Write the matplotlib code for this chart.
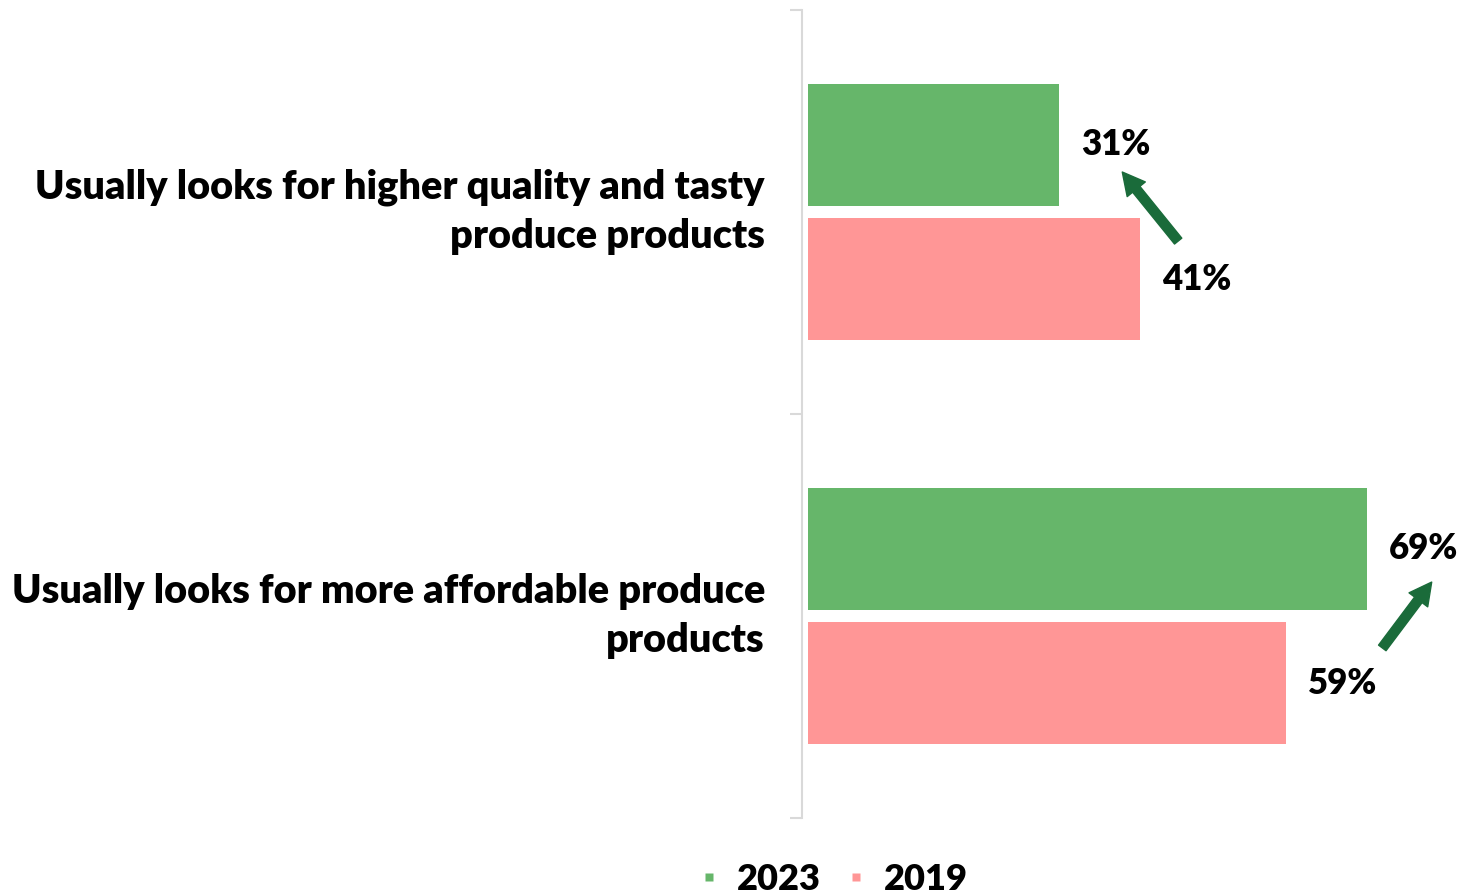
import matplotlib.pyplot as plt
from matplotlib.lines import Line2D
import numpy as np

# survey shares (%) per statement, 2023 vs 2019
categories = ['Usually looks for higher quality and tasty\nproduce products',
              'Usually looks for more affordable produce\nproducts']
years = ['2023', '2019']
values_2023 = [31, 69]
values_2019 = [41, 59]

green = '#66B66A'
pink = '#FF9696'
arrow_green = '#1A6B3A'
weight = 'heavy'

plt.rcParams['font.family'] = ['Lato', 'DejaVu Sans']
plt.rcParams['font.weight'] = weight

fig = plt.figure(figsize=(14.66, 8.96), dpi=100)
ax = fig.add_axes([808 / 1466, 78 / 896, 648 / 1466, 808 / 896])

y = np.arange(len(categories))
h = 0.302
off = 0.167
ax.barh(y - off, values_2023, height=h, color=green, label=years[0])
ax.barh(y + off, values_2019, height=h, color=pink, label=years[1])

# value labels at bar ends
for yi, v in zip(y - off, values_2023):
    ax.annotate(f'{v}%', (v, yi), xytext=(16, 0), textcoords='offset points',
                va='center', ha='left', fontsize=25, fontweight=weight)
for yi, v in zip(y + off, values_2019):
    ax.annotate(f'{v}%', (v, yi), xytext=(16, 0), textcoords='offset points',
                va='center', ha='left', fontsize=25, fontweight=weight)

# category labels left of the axis
for yi, cat in zip(y, categories):
    ax.annotate(cat, (0, yi), xycoords=('axes fraction', 'data'),
                xytext=(-31, 0), textcoords='offset points',
                ha='right', va='center', multialignment='right',
                fontsize=28.5, fontweight=weight, linespacing=1.4)

# change arrows between the two years
arrow_style = dict(arrowstyle='simple,head_length=1.0,head_width=1.05,tail_width=0.42',
                   color=arrow_green, mutation_scale=16, shrinkA=0, shrinkB=0)
ax.annotate('', xy=(38.8, -0.099), xytext=(45.7, 0.072), arrowprops=arrow_style)
ax.annotate('', xy=(77.0, 0.916), xytext=(70.9, 1.079), arrowprops=arrow_style)

ax.set_xlim(0, 80)
ax.set_ylim(1.5, -0.5)
ax.set_xticks([])
ax.set_yticks([-0.5, 0.5, 1.5])
ax.set_yticklabels([])
ax.tick_params(axis='y', which='major', length=9, width=1.5, color='#D9D9D9')

for s in ['top', 'right', 'bottom']:
    ax.spines[s].set_visible(False)
ax.spines['left'].set_color('#D9D9D9')
ax.spines['left'].set_linewidth(1.5)
ax.spines['left'].set_position(('outward', 4))

handles = [Line2D([], [], marker='s', linestyle='none', markersize=6,
                  markerfacecolor=green, markeredgecolor='none'),
           Line2D([], [], marker='s', linestyle='none', markersize=6,
                  markerfacecolor=pink, markeredgecolor='none')]
fig.legend(handles, years, loc='center', bbox_to_anchor=(833 / 1466, 1 - 879 / 896),
           ncol=2, frameon=False, handlelength=0.6, handletextpad=0.45,
           columnspacing=0.7, prop={'weight': weight, 'size': 26})

fig.savefig('out.png', dpi=100)
